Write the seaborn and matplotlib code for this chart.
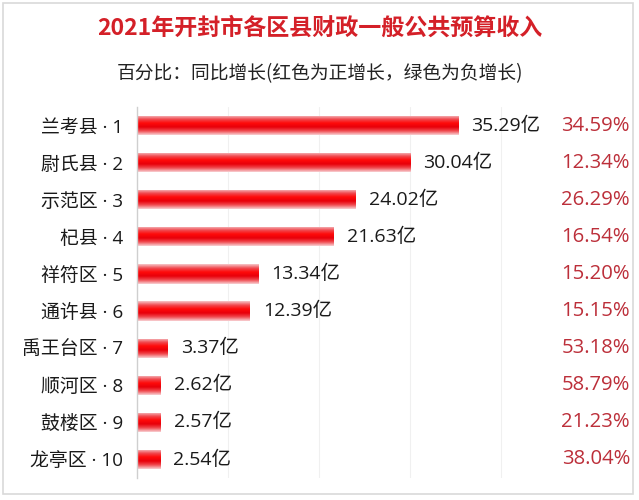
import numpy as np
import pandas as pd
import matplotlib
matplotlib.use("Agg")
import matplotlib.pyplot as plt
import matplotlib.transforms as mtransforms
from matplotlib.patches import Rectangle
from matplotlib.colors import LinearSegmentedColormap
import seaborn as sns

# ---- data ----
districts = ["兰考县", "尉氏县", "示范区", "杞县", "祥符区", "通许县", "禹王台区", "顺河区", "鼓楼区", "龙亭区"]
ranks = [1, 2, 3, 4, 5, 6, 7, 8, 9, 10]
revenue = [35.29, 30.04, 24.02, 21.63, 13.34, 12.39, 3.37, 2.62, 2.57, 2.54]
growth = ["34.59%", "12.34%", "26.29%", "16.54%", "15.20%", "15.15%", "53.18%", "58.79%", "21.23%", "38.04%"]

title = "2021年开封市各区县财政一般公共预算收入"
subtitle = "百分比：同比增长(红色为正增长，绿色为负增长)"

sns.set_theme(style="white")
plt.rcParams["font.family"] = ["Noto Sans CJK SC", "DejaVu Sans"]
LATIN_FIRST = ["Open Sans", "Noto Sans CJK SC", "DejaVu Sans"]

labels = [f"{d} · {r}" for d, r in zip(districts, ranks)]
df = pd.DataFrame({"label": labels, "revenue": revenue})

fig = plt.figure(figsize=(6.39, 5.0), dpi=100)
fig.patch.set_facecolor("white")
ax = fig.add_axes([137 / 639, 1 - 478 / 500, (632 - 137) / 639, (478 - 107) / 500])

sns.barplot(data=df, x="revenue", y="label", orient="h", ax=ax, width=0.52,
            color="red", saturation=1)

ax.set_xlim(0, 495 / 9.1)
ax.set_xlabel("")
ax.set_ylabel("")
ax.set_xticks([])
ax.tick_params(axis="y", length=0, pad=10, labelcolor="#1a1a1a")
for t in ax.get_yticklabels():
    t.set_fontfamily(LATIN_FIRST)
    t.set_fontsize(13.6)
for s in ["top", "right", "bottom"]:
    ax.spines[s].set_visible(False)
ax.spines["left"].set_color("#cfcfcf")
ax.spines["left"].set_linewidth(1.0)

# faint gridlines
for gx in [10, 20, 30, 40]:
    ax.axvline(gx, color="#f0f0f0", lw=0.8, zorder=0)

# gradient fill for bars
cmap = LinearSegmentedColormap.from_list(
    "bar", ["#f6c6c8", "#f04a50", "#ff0a0a", "#e8000a", "#f04a50", "#f8d0d2"])
grad = np.linspace(0, 1, 64).reshape(-1, 1)
for p in ax.patches:
    x0, y0 = p.get_x(), p.get_y()
    w, h = p.get_width(), p.get_height()
    p.set_facecolor("none")
    p.set_edgecolor("none")
    im = ax.imshow(grad, cmap=cmap, aspect="auto", extent=[x0, x0 + w, y0 + h, y0],
                   interpolation="bilinear", zorder=2)
    im.set_clip_path(p)
ax.set_ylim(9.5, -0.5)

# value labels
for i, v in enumerate(revenue):
    ax.text(v + 1.45, i, f"{v:.2f}亿", va="center", ha="left", fontsize=14,
            color="#1a1a1a", family=LATIN_FIRST)

# growth column
trans = mtransforms.blended_transform_factory(fig.transFigure, ax.transData)
for i, g in enumerate(growth):
    ax.text(630 / 639, i, g, transform=trans, va="center", ha="right", fontsize=14.6,
            color="#bc2f3a", family=LATIN_FIRST)

fig.text(0.5, 1 - 28 / 500, title, ha="center", va="center", fontsize=16.6,
         fontweight="bold", color="#d42028")
fig.text(0.5, 1 - 74 / 500, subtitle, ha="center", va="center", fontsize=13.5,
         color="#222222")

fig.patches.append(Rectangle((3 / 639, 1 - 494 / 500), 630 / 639, 491 / 500,
                             transform=fig.transFigure, fill=False,
                             edgecolor="#d9d9d9", lw=1.2))

fig.savefig("out.png", dpi=100, facecolor="white")
